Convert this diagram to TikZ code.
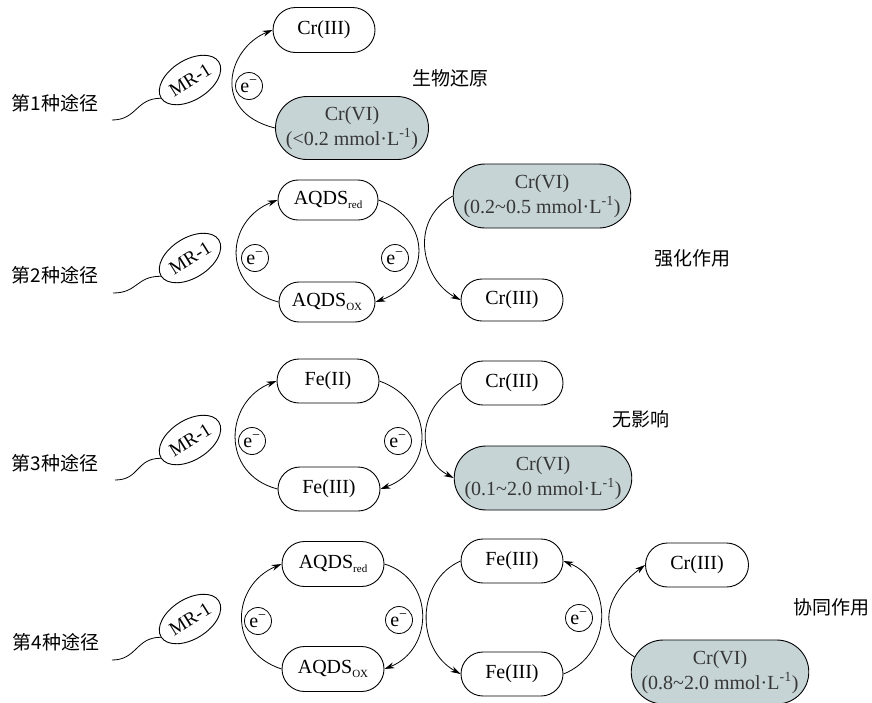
\documentclass[tikz,border=0pt]{standalone}
\usepackage{fontspec}
\setmainfont{Liberation Serif}
\newfontfamily\cjk{Noto Sans CJK SC}
\usetikzlibrary{shapes.misc,shapes.geometric,arrows.meta}
\definecolor{boxgray}{RGB}{198,212,214}
\definecolor{txtgray}{RGB}{55,55,55}
\newcommand{\sbs}[1]{\raisebox{-4pt}{\fontsize{11}{11}\selectfont #1}}
\newcommand{\elec}{e\textsuperscript{−}}
\newcommand{\unit}{mmol\textperiodcentered L\textsuperscript{-1}}
\begin{document}
\begin{tikzpicture}[x=1pt,y=1pt,
  every node/.style={font=\fontsize{20}{25}\selectfont},
  pill/.style={rounded rectangle, draw, line width=0.9pt, minimum height=44pt, minimum width=106pt, inner sep=2pt},
  pillgray/.style={pill, fill=boxgray, text=txtgray, align=center, minimum height=63pt},
  elc/.style={circle, draw, line width=0.8pt, minimum size=27pt, inner sep=0pt, font=\fontsize{20}{20}\selectfont},
  mr/.style={ellipse, draw, line width=0.9pt, minimum width=68pt, minimum height=40pt, inner sep=0pt, rotate=32, font=\fontsize{19}{19}\selectfont},
  arr/.style={-{Stealth[length=10pt,width=6pt]}, line width=0.8pt},
  wig/.style={line width=0.8pt},
  cn/.style={font=\cjk\fontsize{19}{19}\selectfont},
]
\useasboundingbox[fill=white] (0,0) rectangle (872,-702);

% ---------- Row 1 ----------
\node[pill, minimum width=106pt, minimum height=45pt] (r1c3) at (324,-30) {Cr(III)};
\node[pillgray, minimum width=157pt] (r1c6) at (352,-128) {Cr(VI)\\(<0.2 \unit)};
\node[elc] (r1e) at (249,-86) {\elec};
\node[mr] (r1m) at (190,-80) {MR-1};
\coordinate (r1t) at (112,-120);
\node[cn] (r1l) at (55,-103) {第1种途径};
\node[cn] (r1n) at (450,-78) {生物还原};
\draw[arr] (r1c6.west) .. controls (210,-112) and (228,-48) .. (r1c3.west);
\draw[wig] (r1t) .. controls +(25,0) and +(-25,0) .. (r1m.west);

% ---------- Row 2 ----------
\node[pill, minimum width=104pt, minimum height=40pt] (r2ar) at (328,-200) {AQDS\sbs{red}};
\node[pill, minimum width=100pt, minimum height=40pt] (r2ao) at (327,-302) {AQDS\sbs{OX}};
\node[pillgray, minimum width=169pt, minimum height=64pt] (r2c6) at (542,-196) {Cr(VI)\\(0.2\textasciitilde0.5 \unit)};
\node[pill, minimum width=106pt, minimum height=42pt] (r2c3) at (512,-300) {Cr(III)};
\node[elc] (r2e1) at (255,-258) {\elec};
\node[elc] (r2e2) at (395,-258) {\elec};
\node[mr] (r2m) at (190,-258) {MR-1};
\coordinate (r2t) at (113,-293);
\node[cn] (r2l) at (55,-275) {第2种途径};
\node[cn] (r2n) at (692,-258) {强化作用};
\draw[arr] (r2ao.west) .. controls +(-58,15) and +(-52,-20) .. (r2ar.west);
\draw[arr] (r2ar.east) .. controls +(55,-20) and +(55,20) .. (r2ao.east);
\draw[arr] (r2c6.west) .. controls +(-45,-25) and +(-38,20) .. (r2c3.west);
\draw[wig] (r2t) .. controls +(25,0) and +(-25,0) .. (r2m.west);

% ---------- Row 3 ----------
\node[pill] (r3f2) at (328,-381) {Fe(II)};
\node[pill] (r3f3) at (329,-489) {Fe(III)};
\node[pill] (r3c3) at (512,-383) {Cr(III)};
\node[pillgray, minimum width=168pt, minimum height=64pt] (r3c6) at (543,-478) {Cr(VI)\\(0.1\textasciitilde2.0 \unit)};
\node[elc] (r3e1) at (252,-441) {\elec};
\node[elc] (r3e2) at (398,-441) {\elec};
\node[mr] (r3m) at (190,-440) {MR-1};
\coordinate (r3t) at (115,-480);
\node[cn] (r3l) at (55,-463) {第3种途径};
\node[cn] (r3n) at (641,-419) {无影响};
\draw[arr] (r3f3.west) .. controls +(-58,15) and +(-52,-20) .. (r3f2.west);
\draw[arr] (r3f2.east) .. controls +(55,-20) and +(55,20) .. (r3f3.east);
\draw[arr] (r3c3.west) .. controls +(-45,-25) and +(-38,20) .. (r3c6.west);
\draw[wig] (r3t) .. controls +(25,0) and +(-25,0) .. (r3m.west);

% ---------- Row 4 ----------
\node[pill, minimum height=45pt] (r4ar) at (333,-564) {AQDS\sbs{red}};
\node[pill, minimum height=45pt] (r4ao) at (333,-669) {AQDS\sbs{OX}};
\node[pill] (r4ft) at (512,-561) {Fe(III)};
\node[pill] (r4fb) at (512,-674) {Fe(III)};
\node[pill, minimum width=107pt] (r4c3) at (697,-565) {Cr(III)};
\node[pillgray, minimum width=170pt, minimum height=64pt] (r4c6) at (720,-672) {Cr(VI)\\(0.8\textasciitilde2.0 \unit)};
\node[elc] (r4e1) at (258,-621) {\elec};
\node[elc] (r4e2) at (399,-620) {\elec};
\node[elc] (r4e3) at (579,-618) {\elec};
\node[mr] (r4m) at (190,-619) {MR-1};
\coordinate (r4t) at (112,-660);
\node[cn] (r4l) at (56,-642) {第4种途径};
\node[cn] (r4n) at (831,-607) {协同作用};
\draw[arr] (r4ao.west) .. controls +(-55,18) and +(-50,-21) .. (r4ar.west);
\draw[arr] (r4ar.east) .. controls +(50,-15) and +(50,20) .. (r4ao.east);
\draw[arr] (r4ft.west) .. controls +(-45,-20) and +(-45,25) .. (r4fb.west);
\draw[arr] (r4fb.east) .. controls +(50,20) and +(50,-20) .. (r4ft.east);
\draw[arr] (r4c6.170) .. controls +(-40,25) and +(-40,-30) .. (r4c3.west);
\draw[wig] (r4t) .. controls +(25,0) and +(-25,0) .. (r4m.west);
\end{tikzpicture}
\end{document}
